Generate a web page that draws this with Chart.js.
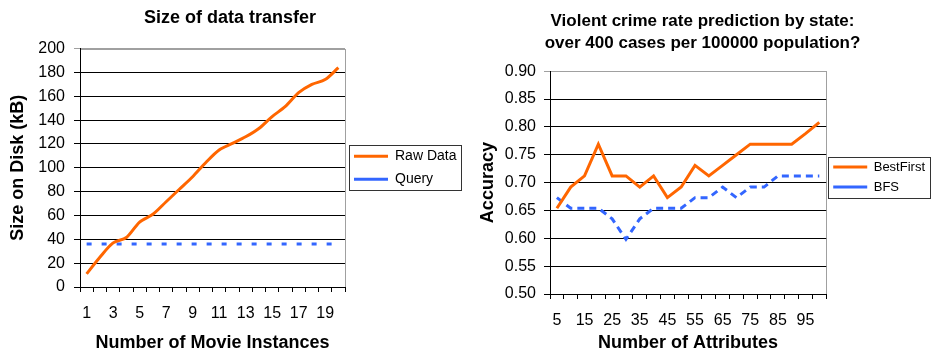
<!DOCTYPE html>
<html>
<head>
<meta charset="utf-8">
<script src="https://cdn.jsdelivr.net/npm/chart.js@4.4.1/dist/chart.umd.min.js"></script>
<style>
  html, body { margin: 0; padding: 0; background: #fff; }
  #wrap { position: relative; width: 935px; height: 354px; }
  canvas { position: absolute; top: 0; }
  #sizeChart { left: 0; }
  #crimeChart { left: 470px; }
</style>
</head>
<body>
<div id="wrap">
  <canvas id="sizeChart" width="470" height="354"></canvas>
  <canvas id="crimeChart" width="465" height="354"></canvas>
</div>
<script>
// Left chart: size of data transfer
const movieInstances = ['1', '2', '3', '4', '5', '6', '7', '8', '9', '10',
                        '11', '12', '13', '14', '15', '16', '17', '18', '19', '20'];
const rawDataKB = [11, 25, 37, 41.5, 54.5, 61, 71.5, 82, 92.5, 104.5,
                   115, 120.5, 126, 133, 143, 151.5, 163, 170, 174, 184];
const queryKB = [36, 36, 36, 36, 36, 36, 36, 36, 36, 36,
                 36, 36, 36, 36, 36, 36, 36, 36, 36, 36];

// Right chart: violent crime prediction
const attributeCounts = ['5', '10', '15', '20', '25', '30', '35', '40', '45', '50',
                         '55', '60', '65', '70', '75', '80', '85', '90', '95', '100'];
const bestFirstAcc = [0.654, 0.692, 0.712, 0.769, 0.712, 0.712, 0.692, 0.712, 0.673, 0.692,
                      0.731, 0.712, 0.731, 0.750, 0.769, 0.769, 0.769, 0.769, 0.788, 0.808];
const bfsAcc = [0.673, 0.654, 0.654, 0.654, 0.635, 0.598, 0.635, 0.654, 0.654, 0.654,
                0.673, 0.673, 0.692, 0.673, 0.692, 0.692, 0.712, 0.712, 0.712, 0.712];

const FONT = "'Liberation Sans', Arial, sans-serif";
const ORANGE = '#FF6600';
const BLUE = '#3366FF';

// gray frame round the plot area + border round the legend items
const frameAndLegendBox = {
    id: 'frameAndLegendBox',
    beforeDraw(chart) {
        const a = chart.chartArea;
        const ctx = chart.ctx;
        ctx.save();
        ctx.strokeStyle = '#a0a0a0';
        ctx.lineWidth = 1;
        ctx.strokeRect(Math.round(a.left) + 0.5, Math.round(a.top) + 0.5,
                       Math.round(a.right - a.left), Math.round(a.bottom - a.top));
        ctx.restore();
    },
    afterDraw(chart) {
        const boxes = chart.legend && chart.legend.legendHitBoxes;
        if (!boxes || !boxes.length) return;
        const pad = chart.options.plugins.frameAndLegendBox;
        let l = Infinity, t = Infinity, r = -Infinity, b = -Infinity;
        boxes.forEach(h => {
            l = Math.min(l, h.left); t = Math.min(t, h.top);
            r = Math.max(r, h.left + h.width); b = Math.max(b, h.top + h.height);
        });
        const ctx = chart.ctx;
        ctx.save();
        ctx.strokeStyle = '#333';
        ctx.lineWidth = 1;
        ctx.strokeRect(Math.round(l - pad.x) + 0.5, Math.round(t - pad.y) + 0.5,
                       Math.round(r - l + 2 * pad.x), Math.round(b - t + 2 * pad.y));
        ctx.restore();
    }
};

function buildOptions(cfg) {
    return {
        responsive: false,
        animation: false,
        layout: { padding: cfg.layoutPadding },
        plugins: {
            title: {
                display: true,
                text: cfg.title,
                color: '#000',
                font: { family: FONT, size: cfg.titleSize, weight: 'bold', lineHeight: cfg.titleLineHeight },
                padding: cfg.titlePadding
            },
            legend: {
                position: 'right',
                fullSize: cfg.legendFullSize,
                labels: {
                    color: '#000',
                    font: { family: FONT, size: cfg.legendFont },
                    usePointStyle: true,
                    pointStyle: 'line',
                    pointStyleWidth: cfg.legendLine,
                    padding: cfg.legendPadding
                }
            },
            tooltip: { enabled: false },
            frameAndLegendBox: { x: 5, y: 4 }
        },
        scales: {
            x: {
                type: 'category',
                offset: true,
                grid: { offset: true, drawOnChartArea: false, drawTicks: true, tickLength: 5, color: '#000' },
                border: { color: '#000', width: 1 },
                ticks: {
                    color: '#000',
                    font: { family: FONT, size: 16 },
                    autoSkip: false,
                    maxRotation: 0,
                    padding: 12,
                    callback: function (value, index) {
                        return index % 2 === 0 ? this.getLabelForValue(value) : '';
                    }
                },
                title: {
                    display: true,
                    text: cfg.xTitle,
                    color: '#000',
                    font: { family: FONT, size: 18, weight: 'bold' },
                    padding: { top: 0, bottom: cfg.xTitlePad }
                },
                afterFit: s => { s.height = cfg.xHeight; }
            },
            y: {
                min: cfg.yMin,
                max: cfg.yMax,
                grid: {
                    color: c => (c.tick && c.tick.value >= cfg.yMax - 1e-6) ? '#a0a0a0' : '#000',
                    tickLength: 6
                },
                border: { color: '#000', width: 1 },
                ticks: {
                    stepSize: cfg.yStep,
                    color: '#000',
                    font: { family: FONT, size: 16 },
                    padding: cfg.yTickPad,
                    callback: cfg.yFormat
                },
                title: {
                    display: true,
                    text: cfg.yTitle,
                    color: '#000',
                    font: { family: FONT, size: 18, weight: 'bold' },
                    padding: { top: 7, bottom: 0 }
                },
                afterFit: s => { s.width = 80; }
            }
        }
    };
}

new Chart(document.getElementById('sizeChart'), {
    type: 'line',
    data: {
        labels: movieInstances,
        datasets: [{
            label: 'Raw Data',
            data: rawDataKB,
            borderColor: ORANGE,
            backgroundColor: ORANGE,
            borderWidth: 3,
            pointRadius: 0,
            tension: 0.3
        }, {
            label: 'Query',
            data: queryKB,
            borderColor: BLUE,
            backgroundColor: BLUE,
            borderWidth: 3,
            borderDash: [5, 10],
            pointRadius: 0
        }]
    },
    options: buildOptions({
        title: 'Size of data transfer',
        titleSize: 18, titleLineHeight: 1.2,
        titlePadding: { top: 7, bottom: 20 },
        layoutPadding: { left: 0, right: 10, top: 0, bottom: 0 },
        legendFullSize: false, legendFont: 14, legendLine: 34, legendPadding: 9,
        xTitle: 'Number of Movie Instances', xTitlePad: 0, xHeight: 67,
        yTitle: 'Size on Disk (kB)',
        yMin: 0, yMax: 200, yStep: 20, yTickPad: 9,
        yFormat: v => v
    }),
    plugins: [frameAndLegendBox]
});

new Chart(document.getElementById('crimeChart'), {
    type: 'line',
    data: {
        labels: attributeCounts,
        datasets: [{
            label: 'BestFirst',
            data: bestFirstAcc,
            borderColor: ORANGE,
            backgroundColor: ORANGE,
            borderWidth: 3,
            pointRadius: 0,
            tension: 0
        }, {
            label: 'BFS',
            data: bfsAcc,
            borderColor: BLUE,
            backgroundColor: BLUE,
            borderWidth: 3,
            borderDash: [7, 5],
            pointRadius: 0,
            tension: 0
        }]
    },
    options: buildOptions({
        title: ['Violent crime rate prediction by state:', 'over 400 cases per 100000 population?'],
        titleSize: 17, titleLineHeight: 1.3,
        titlePadding: { top: 10, bottom: 17 },
        layoutPadding: { left: 0, right: 0, top: 0, bottom: 0 },
        legendFullSize: true, legendFont: 13, legendLine: 34, legendPadding: 7,
        xTitle: 'Number of Attributes', xTitlePad: 0, xHeight: 60,
        yTitle: 'Accuracy',
        yMin: 0.5, yMax: 0.9, yStep: 0.05, yTickPad: 8,
        yFormat: v => v.toFixed(2)
    }),
    plugins: [frameAndLegendBox]
});
</script>
</body>
</html>
